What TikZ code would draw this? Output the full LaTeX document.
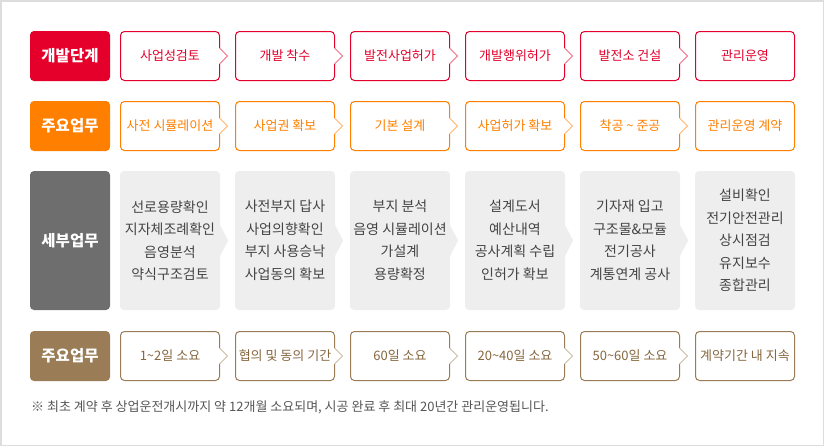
\documentclass[tikz,border=0pt]{standalone}
\usepackage{fontspec}
\setmainfont{Noto Sans CJK KR}
\usetikzlibrary{calc}
\definecolor{danred}{HTML}{E4002B}
\definecolor{danredl}{HTML}{EE6F86}
\definecolor{juorange}{HTML}{FF7F00}
\definecolor{juorangel}{HTML}{FFB46E}
\definecolor{sebgray}{HTML}{6E6E6E}
\definecolor{sebfill}{HTML}{EEEEEE}
\definecolor{sebtext}{HTML}{444444}
\definecolor{gitan}{HTML}{9A7D56}
\definecolor{gitanl}{HTML}{CBBBA3}
\definecolor{gitantext}{HTML}{86673F}
\definecolor{framegray}{HTML}{DDDDDD}
\definecolor{notegray}{HTML}{555555}

\begin{document}
\begin{tikzpicture}[x=1pt,y=-1pt,
  headbox/.style={rounded corners=4pt, minimum width=80pt, minimum height=50pt, inner sep=0pt, text=white, font=\fontsize{15.5}{17}\selectfont\bfseries},
  stepbox/.style={draw, line width=1pt, rounded corners=4pt, fill=white, minimum width=99pt, minimum height=49pt, inner sep=0pt, font=\fontsize{13}{15}\selectfont},
  detailbox/.style={fill=sebfill, rounded corners=4pt, minimum width=100pt, minimum height=139pt, inner sep=0pt, align=center, text=sebtext, font=\fontsize{14}{22.5}\selectfont},
  notch/.style={line width=1pt, line join=miter}]
  \useasboundingbox (0,0) rectangle (825,447);
  \draw[line width=1.5pt, framegray] (0.75,0.75) rectangle (823.5,445.5);

  % 개발단계
  \node[headbox, fill=danred] (h1) at (70,56) {개발단계};
  \foreach \n/\x/\t in {1/170/사업성검토, 2/285/개발 착수, 3/400/발전사업허가, 4/515/개발행위허가, 5/630/발전소 건설, 6/745/관리운영}
    \node[stepbox, draw=danred, text=danred] (a\n) at (\x,56) {\t};
  \foreach \n in {1,...,5}{
    \fill[white] ($(a\n.east)+(-2,-8)$) rectangle ($(a\n.east)+(1,8)$);
    \draw[notch, danredl] ($(a\n.east)+(-0.5,-8)$) -- ++(8,8) -- ++(-8,8);
  }

  % 주요업무
  \node[headbox, fill=juorange] (h2) at (70,126) {주요업무};
  \foreach \n/\x/\t in {1/170/사전 시뮬레이션, 2/285/사업권 확보, 3/400/기본 설계, 4/515/사업허가 확보, 5/630/착공 \textasciitilde\ 준공, 6/745/관리운영 계약}
    \node[stepbox, draw=juorange, text=juorange] (b\n) at (\x,126) {\t};
  \foreach \n in {1,...,5}{
    \fill[white] ($(b\n.east)+(-2,-8)$) rectangle ($(b\n.east)+(1,8)$);
    \draw[notch, juorangel] ($(b\n.east)+(-0.5,-8)$) -- ++(8,8) -- ++(-8,8);
  }

  % 세부업무
  \node[headbox, fill=sebgray, minimum height=139pt] (h3) at (70,240.5) {세부업무};
  \foreach \n/\x/\t in {1/170/{선로용량확인\\지자체조례확인\\음영분석\\약식구조검토},
                        2/285/{사전부지 답사\\사업의향확인\\부지 사용승낙\\사업동의 확보},
                        3/400/{부지 분석\\음영 시뮬레이션\\가설계\\용량확정},
                        4/515/{설계도서\\예산내역\\공사계획 수립\\인허가 확보},
                        5/630/{기자재 입고\\구조물\&모듈\\전기공사\\계통연계 공사},
                        6/745/{설비확인\\전기안전관리\\상시점검\\유지보수\\종합관리}}
    \node[detailbox] (c\n) at (\x,240.5) {\t};
  \foreach \n in {1,...,5}
    \fill[sebfill] ($(c\n.east)+(-0.5,-16)$) -- ++(8.5,16) -- ++(-8.5,16) -- cycle;

  % 소요기간
  \node[headbox, fill=gitan] (h4) at (70,356) {주요업무};
  \foreach \n/\x/\t in {1/170/1\textasciitilde 2일 소요, 2/285/협의 및 동의 기간, 3/400/60일 소요, 4/515/20\textasciitilde 40일 소요, 5/630/50\textasciitilde 60일 소요, 6/745/계약기간 내 지속}
    \node[stepbox, draw=gitan, text=gitantext] (d\n) at (\x,356) {\t};
  \foreach \n in {1,...,5}{
    \fill[white] ($(d\n.east)+(-2,-8)$) rectangle ($(d\n.east)+(1,8)$);
    \draw[notch, gitanl] ($(d\n.east)+(-0.5,-8)$) -- ++(8,8) -- ++(-8,8);
  }

  \node[anchor=west, inner sep=0pt, text=notegray, font=\fontsize{13}{15}\selectfont] (note) at (31,407) {※ 최초 계약 후 상업운전개시까지 약 12개월 소요되며, 시공 완료 후 최대 20년간 관리운영됩니다.};
\end{tikzpicture}
\end{document}
